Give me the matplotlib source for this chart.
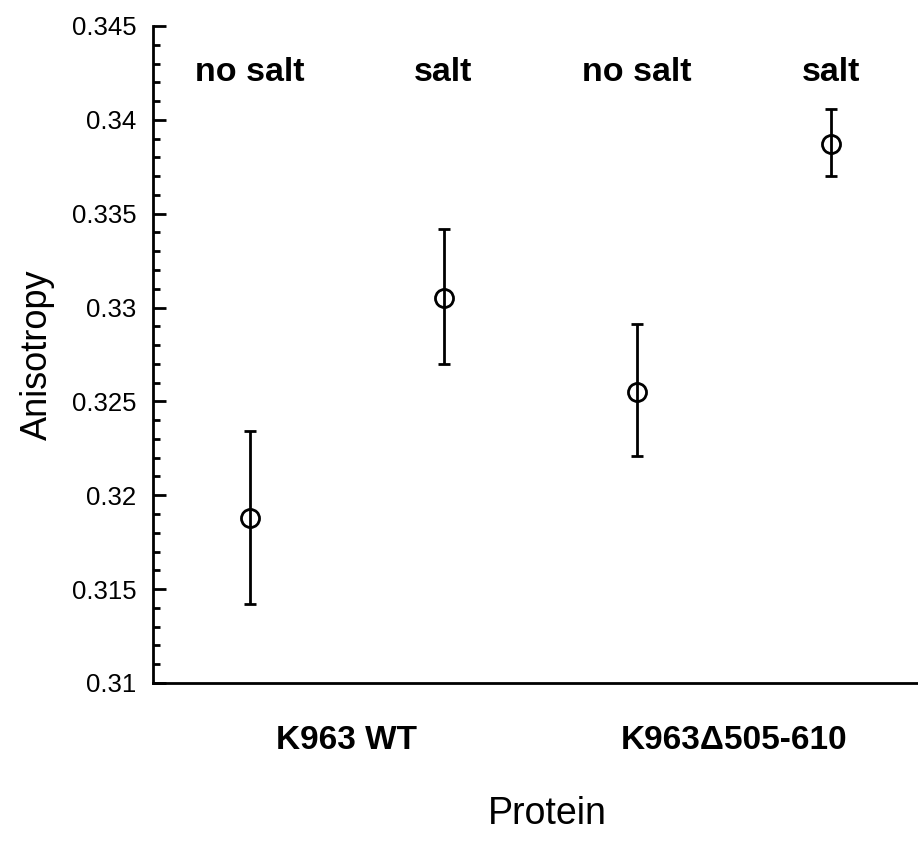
import matplotlib
matplotlib.use("Agg")
import matplotlib.pyplot as plt
from matplotlib.ticker import MultipleLocator

# Dados
posicoes = [1, 2, 3, 4]
anisotropia = [0.3188, 0.3305, 0.3255, 0.3387]
erro_sup = [0.3234, 0.3342, 0.3291, 0.3406]
erro_inf = [0.3142, 0.3270, 0.3221, 0.3370]
condicoes = ["no salt", "salt", "no salt", "salt"]
proteinas = ["K963 WT", "K963\u0394505-610"]
pos_proteinas = [1.5, 3.5]

plt.rcParams['font.family'] = ['Liberation Sans', 'DejaVu Sans']

fig = plt.figure(figsize=(9.18, 8.58), dpi=100)
ax = fig.add_axes([0.1667, 0.204, 0.8333, 0.7657])

yerr = [[a - b for a, b in zip(anisotropia, erro_inf)],
        [b - a for a, b in zip(anisotropia, erro_sup)]]
ax.errorbar(posicoes, anisotropia, yerr=yerr, fmt='o', mfc='none', mec='black',
            mew=2, ms=13, ecolor='black', elinewidth=2, capsize=4, capthick=2,
            color='black')

ax.set_xlim(0.5, 4.45)
ax.set_ylim(0.31, 0.345)
ax.yaxis.set_minor_locator(MultipleLocator(0.001))
ax.set_yticks([0.31, 0.315, 0.32, 0.325, 0.33, 0.335, 0.34, 0.345])
ax.set_yticklabels(["0.31", "0.315", "0.32", "0.325", "0.33", "0.335", "0.34", "0.345"])
ax.tick_params(axis='y', which='major', direction='in', length=9, width=2,
               labelsize=18.5, pad=12)
ax.tick_params(axis='y', which='minor', direction='in', length=5, width=2)
ax.set_xticks([])

for s in ['top', 'right']:
    ax.spines[s].set_visible(False)
for s in ['left', 'bottom']:
    ax.spines[s].set_linewidth(2)

for x, c in zip(posicoes, condicoes):
    ax.text(x, 0.3425, c, ha='center', va='center', fontsize=24.5, fontweight='bold')

for x, p in zip(pos_proteinas, proteinas):
    ax.text(x, -0.087, p, transform=ax.get_xaxis_transform(), ha='center', va='center',
            fontsize=24, fontweight='bold')

ax.text(0.515, -0.2, "Protein", transform=ax.transAxes, ha='center', va='center', fontsize=27)
ax.set_ylabel("Anisotropy", fontsize=26, labelpad=12)

fig.savefig("out.png", dpi=100)
